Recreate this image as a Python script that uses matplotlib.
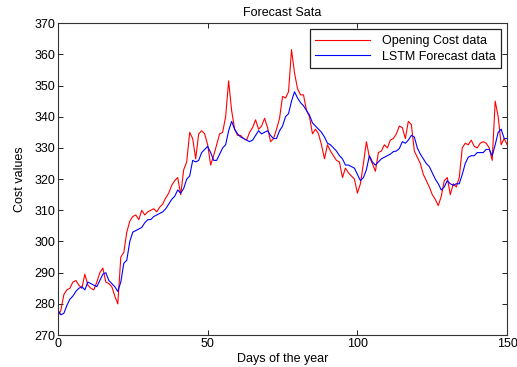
import numpy as np
import matplotlib
matplotlib.use("Agg")
import matplotlib.pyplot as plt

plt.rcParams['font.family'] = ['Liberation Sans', 'DejaVu Sans']

# Daily opening cost and the LSTM forecast (days 0..150)
days = np.arange(151)

opening_cost = [
    276, 278, 283, 284.5, 285, 287, 287.5, 286, 285, 289.5,
    286, 285, 284.5, 287, 290, 291.5, 287, 286.5, 285.5, 282.5,
    280, 295, 296.5, 303, 306.5, 308, 308.5, 307, 310, 308.5,
    309.5, 310, 310.5, 309.5, 311, 312, 314, 315.5, 318, 319.5,
    320.5, 315, 323, 325.5, 335, 333, 326.5, 334.5, 335.5, 334.5,
    331, 324.5, 327.5, 331, 334.5, 335, 340, 351.5, 342, 336,
    334, 334, 333, 332.5, 335, 336.5, 339, 336, 337, 339.5,
    336.5, 332, 333, 336, 339.5, 346.5, 346, 348, 361.5, 354,
    349, 347, 347, 342, 340, 334.5, 336, 334.5, 331, 326.5,
    331, 329, 327.5, 326, 325.5, 320.5, 323.5, 322, 321, 320,
    315.5, 318.5, 325, 332, 327, 325, 322.5, 328.5, 329, 331,
    330, 332.5, 333, 334.5, 337, 336.5, 333, 338.5, 337.5, 329,
    327, 325, 321.5, 319.5, 317.5, 315, 313.5, 311.5, 314.5, 319.5,
    320.5, 315, 318.5, 317.5, 320.5, 330, 331.5, 331, 332.5, 330.5,
    330, 331.5, 332, 331.5, 330, 326, 345, 340, 331, 333,
    331,
]

lstm_forecast = [
    278, 276.5, 277, 279.5, 281.5, 282.5, 284, 285, 285.5, 284.5,
    287, 286.5, 286, 285.5, 287.5, 289.5, 290, 287.5, 286.5, 285.5,
    284, 287, 293, 294, 300, 303, 303.5, 304, 304.5, 306,
    307, 307, 308, 308.5, 309, 309.5, 310.5, 312, 313.5, 314.5,
    316.5, 315.5, 317, 320, 321, 326, 325.5, 326, 328.5, 329.5,
    330.5, 328.5, 326, 326, 328, 330, 331, 335.5, 338.5, 336,
    334.5, 333.5, 333, 332.5, 332, 332.5, 334, 335.5, 334.5, 335,
    335.5, 334, 333, 333, 335.5, 337, 340, 341, 345, 348,
    346, 344.5, 343.5, 342, 340.5, 338, 337, 336, 335, 333.5,
    331.5, 331, 330, 329, 327.5, 326.5, 324.5, 324.5, 324, 323.5,
    321.5, 319.5, 320.5, 323, 327.5, 325.5, 324.5, 325.5, 326.5, 327,
    327.5, 328, 328.8, 329, 329.8, 332, 331.5, 332.5, 334, 333.5,
    330, 328, 326.5, 325, 324, 322, 320, 318.5, 316.5, 317.5,
    319.5, 318.5, 318, 318.5, 318.5, 321.5, 325, 327, 327.5, 327.5,
    328.5, 328.5, 328.5, 329.5, 329.5, 327.5, 331, 335, 336, 333,
    333,
]

fig = plt.figure(figsize=(5.17, 3.67), dpi=100)
ax = fig.add_axes([0.112, 0.087, 0.869, 0.850])

ax.plot(days, opening_cost, color='#ff0000', lw=0.8, label='Opening Cost data')
ax.plot(days, lstm_forecast, color='#0000ff', lw=0.8, label='LSTM Forecast data')

ax.set_xlim(0, 150)
ax.set_ylim(270, 370)
ax.set_xticks([0, 50, 100, 150])
ax.set_yticks(np.arange(270, 371, 10))
ax.tick_params(direction='in', length=3.5, width=0.6, labelsize=9,
               top=True, right=True, pad=2)
for s in ax.spines.values():
    s.set_linewidth(0.8)
    s.set_color('#333333')

ax.set_title('Forecast Sata', fontsize=9, pad=5)
ax.set_xlabel('Days of the year', fontsize=9, labelpad=2)
ax.set_ylabel('Cost values', fontsize=9, labelpad=6)

leg = ax.legend(loc='upper right', fontsize=9, fancybox=False,
                edgecolor='#222222', framealpha=1, borderaxespad=0.5,
                handlelength=4.4, handletextpad=0.9, borderpad=0.45,
                labelspacing=0.3)
leg.get_frame().set_linewidth(0.9)

fig.savefig('out.png', dpi=100)
